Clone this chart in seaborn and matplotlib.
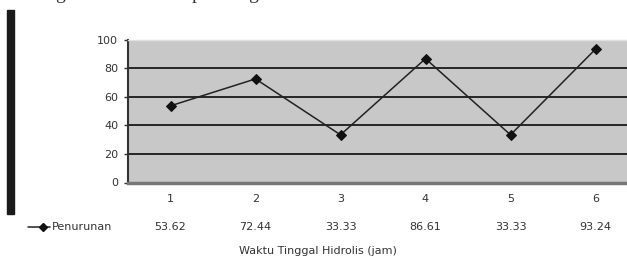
import numpy as np
import matplotlib.pyplot as plt
import seaborn as sns
from matplotlib.lines import Line2D


waktu = [1, 2, 3, 4, 5, 6]
penurunan = [53.62, 72.44, 33.33, 86.61, 33.33, 93.24]
y_ticks = [0, 20, 40, 60, 80, 100]
series_name = "Penurunan"
x_label = "Waktu Tinggal Hidrolis (jam)"

sns.set_style("white")
plt.rcParams['font.family'] = ['Liberation Sans Narrow', 'DejaVu Sans']

W, H = 627, 260
fig = plt.figure(figsize=(W / 100, H / 100), dpi=100)

# plot area extends past the right edge (cropped as in the scan)
left, right, top, bottom = 128, 638, 39.5, 182.5
ax = fig.add_axes([left / W, 1 - bottom / H, (right - left) / W, (bottom - top) / H])
ax.set_facecolor("#c8c8c8")

sns.lineplot(x=waktu, y=penurunan, ax=ax, color="#222222", linewidth=1.1,
             marker="D", markersize=5.5, markerfacecolor="#111111",
             markeredgecolor="#111111")

ax.set_xlim(0.5, 6.5)
ax.set_ylim(0, 100)
ax.set_yticks(y_ticks)
ax.set_yticklabels([str(v) for v in y_ticks])
for v in y_ticks[1:-1]:
    ax.axhline(v, color="#1a1a1a", linewidth=1.3, zorder=1)
ax.set_xticks(waktu)
ax.set_xticklabels([str(v) for v in waktu])
ax.tick_params(axis="y", length=3, width=1, color="#333333", pad=4,
               labelsize=8, labelcolor="#333333")
ax.tick_params(axis="x", length=0, pad=8, labelsize=8, labelcolor="#333333")
ax.yaxis.set_ticks_position("left")

for s in ["top", "right"]:
    ax.spines[s].set_color("#e0e0e0")
    ax.spines[s].set_linewidth(1)
ax.spines["left"].set_color("#333333")
ax.spines["left"].set_linewidth(1.5)
ax.spines["bottom"].set_color("#777777")
ax.spines["bottom"].set_linewidth(2.5)

# data table row below the axis
for x, v in zip(waktu, penurunan):
    ax.text(x, -31, f"{v:.2f}", ha="center", va="center", fontsize=8,
            color="#333333", clip_on=False)

fig.add_artist(Line2D([28 / W, 50 / W], [1 - 227 / H, 1 - 227 / H],
                      color="#222222", linewidth=1.1, marker=None))
fig.add_artist(Line2D([43 / W], [1 - 227 / H], color="#111111", marker="D",
                      markersize=4.5, linestyle="none"))
fig.text(52 / W, 1 - 227 / H, series_name, ha="left", va="center",
         fontsize=8, color="#333333")
fig.text(318 / W, 1 - 251 / H, x_label, ha="center", va="center",
         fontsize=8, color="#333333")

# black bar at the left of the scanned page
fig.add_artist(plt.Rectangle((7 / W, 1 - 214 / H), 7 / W, 204 / H,
                             transform=fig.transFigure, color="#1a1a1a"))

# descenders of the line of body text cut off at the top
for xp, ch in [(60, "g"), (197, "p"), (253, "g")]:
    fig.text(xp / W, 1.005, ch, ha="center", va="baseline", fontsize=14,
             family="Liberation Serif", color="#333333")

fig.savefig("out.png", dpi=100)
